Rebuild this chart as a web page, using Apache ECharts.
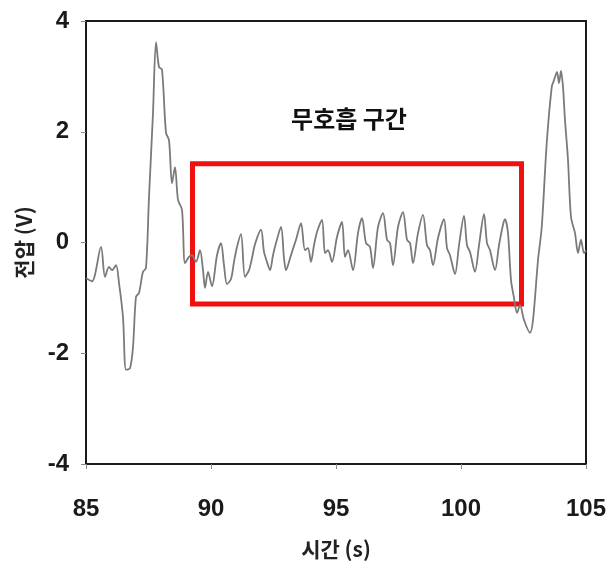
<!DOCTYPE html>
<html>
<head>
<meta charset="utf-8">
<script src="https://cdn.jsdelivr.net/npm/echarts@6/dist/echarts.min.js"></script>
<style>
  html, body { margin: 0; padding: 0; background: #fff; }
  #chart { width: 611px; height: 572px; }
</style>
</head>
<body>
<div id="chart"></div>
<script>
// time (s) and voltage (V)
const times = [
  85.00, 85.24, 85.60, 85.76, 85.92, 86.04, 86.20, 86.32, 86.48, 86.60,
  86.76, 86.88, 87.00, 87.12, 87.28, 87.40, 87.52, 87.68, 87.80, 87.92,
  88.04, 88.20, 88.32, 88.44, 88.56, 88.68, 88.84, 88.96, 89.12, 89.24,
  89.40, 89.56, 89.68, 89.76, 89.88, 90.04, 90.24, 90.40, 90.52, 90.64,
  90.80, 90.92, 91.04, 91.20, 91.36, 91.52, 91.64, 91.76, 92.00, 92.12,
  92.24, 92.36, 92.48, 92.60, 92.80, 92.92, 93.00, 93.12, 93.24, 93.40,
  93.60, 93.76, 93.88, 94.00, 94.12, 94.24, 94.44, 94.56, 94.68, 94.84,
  95.04, 95.24, 95.36, 95.48, 95.68, 95.88, 96.04, 96.20, 96.36, 96.48,
  96.68, 96.88, 97.04, 97.16, 97.28, 97.48, 97.68, 97.84, 97.96, 98.08,
  98.28, 98.48, 98.64, 98.76, 98.88, 99.08, 99.32, 99.44, 99.56, 99.76,
  99.92, 100.12, 100.24, 100.36, 100.56, 100.72, 100.92, 101.04, 101.16, 101.36,
  101.52, 101.68, 101.76, 101.88, 102.00, 102.12, 102.24, 102.36, 102.52, 102.76,
  102.88, 103.08, 103.23, 103.43, 103.63, 103.72, 103.84, 103.92, 104.00, 104.08,
  104.16, 104.28, 104.40, 104.56, 104.68, 104.80, 104.92, 105.00
];
const volts = [
  -0.64, -0.70, -0.08, -0.62, -0.44, -0.50, -0.41, -0.73, -1.35, -2.30,
  -2.27, -1.89, -0.98, -0.91, -0.53, -0.46, 0.82, 2.34, 3.62, 3.17,
  3.12, 1.98, 1.85, 1.07, 1.36, 0.77, 0.59, -0.37, -0.26, -0.23,
  -0.35, -0.14, -0.50, -0.82, -0.53, -0.79, -0.23, -0.01, -0.41, -0.75,
  -0.66, -0.35, -0.08, 0.15, -0.62, -0.50, -0.28, -0.03, 0.23, -0.17,
  -0.35, -0.50, -0.23, -0.01, 0.28, -0.28, -0.50, -0.35, -0.17, 0.05,
  0.35, -0.14, -0.10, -0.35, -0.05, 0.19, 0.41, -0.19, -0.14, -0.35,
  0.10, 0.37, -0.26, -0.14, -0.50, 0.17, 0.44, -0.01, -0.08, -0.46,
  0.28, 0.53, 0.05, -0.01, -0.41, 0.28, 0.55, 0.05, -0.01, -0.37,
  0.17, 0.50, -0.05, -0.14, -0.41, 0.08, 0.42, -0.10, -0.23, -0.57,
  -0.05, 0.48, -0.05, -0.17, -0.53, -0.05, 0.51, -0.01, -0.14, -0.50,
  -0.05, 0.32, 0.42, 0.17, -0.68, -1.00, -1.27, -1.13, -1.40, -1.63,
  -1.40, -0.32, 0.28, 1.80, 2.81, 2.93, 3.08, 2.88, 3.10, 2.81,
  2.21, 1.49, 0.46, 0.17, -0.19, 0.05, -0.19, -0.14
];

// apnea window box (s, V)
const boxTime = [89.26, 102.42];
const boxVolt = [-1.11, 1.42];
const boxLabel = '무호흡 구간';

const xTicks = [85, 90, 95, 100, 105];
const yTicks = [-4, -2, 0, 2, 4];

const chart = echarts.init(document.getElementById('chart'));

const option = {
  animation: false,
  backgroundColor: '#fff',
  grid: {
    left: 86,
    right: 25,
    top: 21,
    bottom: 108,
    show: true,
    borderColor: '#1a1a1a',
    borderWidth: 2
  },
  xAxis: {
    type: 'value',
    min: xTicks[0],
    max: xTicks[xTicks.length - 1],
    interval: 5,
    name: '시간 (s)',
    nameLocation: 'middle',
    nameGap: 75,
    nameTextStyle: {
      fontFamily: 'Noto Sans CJK KR',
      fontWeight: 'bold',
      fontSize: 21,
      color: '#222'
    },
    axisLine: { onZero: false, lineStyle: { color: '#1a1a1a', width: 2 } },
    axisTick: { show: true, inside: false, length: 5, lineStyle: { color: '#888' } },
    axisLabel: {
      margin: 33,
      fontFamily: 'Liberation Sans',
      fontWeight: 'bold',
      fontSize: 24,
      color: '#1a1a1a'
    },
    splitLine: { show: false }
  },
  yAxis: {
    type: 'value',
    min: yTicks[0],
    max: yTicks[yTicks.length - 1],
    interval: 2,
    name: '전압 (V)',
    nameLocation: 'middle',
    nameGap: 51,
    nameRotate: 90,
    nameTextStyle: {
      fontFamily: 'Noto Sans CJK KR',
      fontWeight: 'bold',
      fontSize: 21,
      color: '#222'
    },
    axisLine: { show: true, onZero: false, lineStyle: { color: '#1a1a1a', width: 2 } },
    axisTick: { show: true, inside: false, length: 5, lineStyle: { color: '#888' } },
    axisLabel: {
      margin: 17,
      fontFamily: 'Liberation Sans',
      fontWeight: 'bold',
      fontSize: 24,
      color: '#1a1a1a'
    },
    splitLine: { show: false }
  },
  series: [
    {
      type: 'line',
      data: times.map((t, i) => [t, volts[i]]),
      showSymbol: false,
      smooth: 0.3,
      lineStyle: { color: '#7a7a7a', width: 1.8 },
      markArea: {
        silent: true,
        itemStyle: {
          color: 'rgba(0,0,0,0)',
          borderColor: '#f01010',
          borderWidth: 5
        },
        label: {
          show: true,
          position: 'top',
          distance: 30,
          offset: [-8, 0],
          formatter: boxLabel,
          fontFamily: 'Noto Sans CJK KR',
          fontWeight: 'bold',
          fontSize: 24,
          color: '#111'
        },
        data: [[
          { coord: [boxTime[0], boxVolt[1]] },
          { coord: [boxTime[1], boxVolt[0]] }
        ]]
      }
    }
  ]
};

chart.setOption(option);
</script>
</body>
</html>
